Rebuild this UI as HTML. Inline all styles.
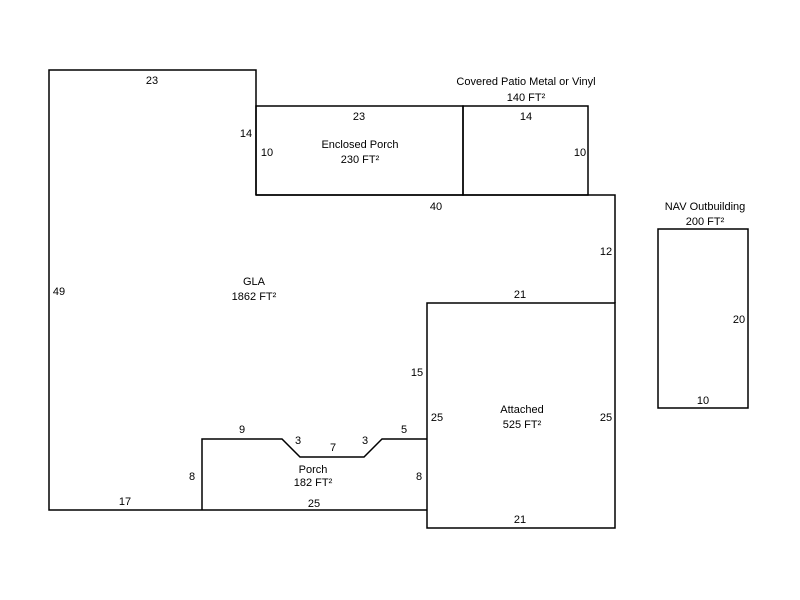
<!DOCTYPE html>
<html><head><style>
html,body{margin:0;padding:0;background:#fff;width:800px;height:600px;overflow:hidden}
text{font-family:"Liberation Sans",Arial,sans-serif;font-size:11px;fill:#000}
</style></head><body>
<svg width="800" height="600" viewBox="0 0 800 600" xmlns="http://www.w3.org/2000/svg">
<g fill="none" stroke="#000" stroke-width="1.5">
<polyline points="256,195 256,70 49,70 49,510 202,510"/>
<polyline points="256,195 615,195 615,303"/>
<rect x="427" y="303" width="188" height="225"/>
<polyline points="202,510 427,510"/>
<polyline points="202,510 202,439 282,439 300,457 364,457 382,439 427,439"/>
<rect x="256" y="106" width="207" height="89"/>
<rect x="463" y="106" width="125" height="89"/>
<rect x="658" y="229" width="90" height="179"/>
</g>
<g text-anchor="middle">
<text x="152" y="84">23</text>
<text x="246" y="137">14</text>
<text x="59" y="295">49</text>
<text x="254" y="285">GLA</text>
<text x="254" y="300">1862 FT²</text>
<text x="359" y="120">23</text>
<text x="267" y="156">10</text>
<text x="360" y="148">Enclosed Porch</text>
<text x="360" y="163">230 FT²</text>
<text x="526" y="85">Covered Patio Metal or Vinyl</text>
<text x="526" y="101">140 FT²</text>
<text x="526" y="120">14</text>
<text x="580" y="156">10</text>
<text x="436" y="210">40</text>
<text x="606" y="255">12</text>
<text x="520" y="298">21</text>
<text x="417" y="376">15</text>
<text x="437" y="421">25</text>
<text x="522" y="413">Attached</text>
<text x="522" y="428">525 FT²</text>
<text x="606" y="421">25</text>
<text x="520" y="523">21</text>
<text x="419" y="480">8</text>
<text x="705" y="210">NAV Outbuilding</text>
<text x="705" y="225">200 FT²</text>
<text x="739" y="323">20</text>
<text x="703" y="404">10</text>
<text x="242" y="433">9</text>
<text x="298" y="444">3</text>
<text x="333" y="451">7</text>
<text x="365" y="444">3</text>
<text x="404" y="433">5</text>
<text x="313" y="473">Porch</text>
<text x="313" y="486">182 FT²</text>
<text x="192" y="480">8</text>
<text x="314" y="507">25</text>
<text x="125" y="505">17</text>
</g>
</svg>
</body></html>
